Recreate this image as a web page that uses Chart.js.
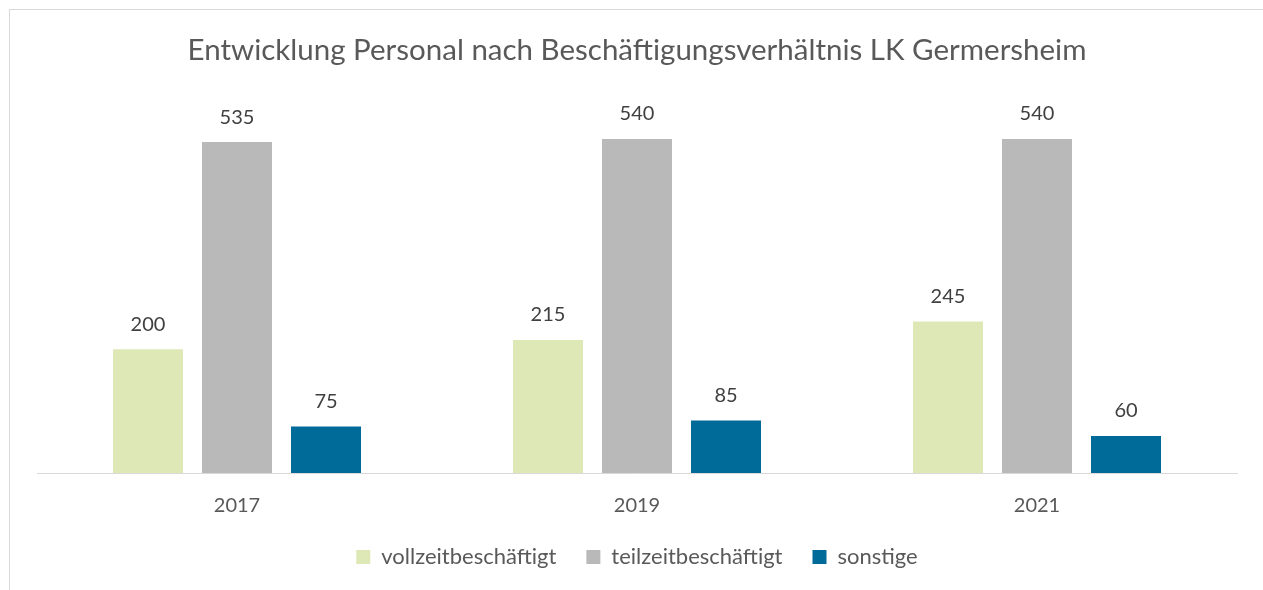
<!DOCTYPE html>
<html>
<head>
<meta charset="utf-8">
<script src="https://cdn.jsdelivr.net/npm/chart.js@4"></script>
<style>
  html, body { margin: 0; padding: 0; background: #fff; overflow: hidden; }
  body { width: 1263px; height: 590px; position: relative; }
  #frame {
    position: absolute; left: 9px; top: 9px;
    width: 1270px; height: 600px;
    border-left: 1px solid #d9d9d9; border-top: 1px solid #d9d9d9;
  }
  #wrap { position: absolute; left: 9px; top: 9px; width: 1256px; height: 600px; }
</style>
</head>
<body>
<div id="frame"></div>
<div id="wrap"><canvas id="chart"></canvas></div>
<script>
// ================================
// DATA
// ================================
const years = ['2017', '2019', '2021'];
const vollzeit = [200, 215, 245];
const teilzeit = [535, 540, 540];
const sonstige = [75, 85, 60];

const FONT = 'Lato';

// value labels above each bar
const barValues = {
    id: 'barValues',
    afterDatasetsDraw(chart) {
        const ctx = chart.ctx;
        ctx.save();
        ctx.font = `20px ${FONT}`;
        ctx.fillStyle = '#404040';
        ctx.textAlign = 'center';
        ctx.textBaseline = 'middle';
        chart.data.datasets.forEach((ds, i) => {
            chart.getDatasetMeta(i).data.forEach((bar, j) => {
                ctx.fillText(ds.data[j], bar.x, bar.y - 25);
            });
        });
        ctx.restore();
    }
};

new Chart(document.getElementById('chart'), {
    type: 'bar',
    data: {
        labels: years,
        datasets: [
            { label: 'vollzeitbeschäftigt', data: vollzeit, backgroundColor: '#dde8b6' },
            { label: 'teilzeitbeschäftigt', data: teilzeit, backgroundColor: '#b9b9b9' },
            { label: 'sonstige', data: sonstige, backgroundColor: '#006a99' }
        ]
    },
    options: {
        responsive: true,
        maintainAspectRatio: false,
        animation: false,
        categoryPercentage: 0.6675,
        barPercentage: 0.787,
        layout: { padding: { left: 28, right: 28, top: 0, bottom: 31 } },
        plugins: {
            title: {
                display: true,
                text: 'Entwicklung Personal nach Beschäftigungsverhältnis LK Germersheim',
                color: '#595959',
                font: { family: FONT, size: 29.5, weight: 'normal' },
                padding: { top: 23.5, bottom: 34 }
            },
            legend: {
                position: 'bottom',
                labels: {
                    color: '#595959',
                    font: { family: FONT, size: 22 },
                    boxWidth: 14,
                    boxHeight: 14,
                    padding: 30
                }
            },
            tooltip: { enabled: false }
        },
        scales: {
            x: {
                grid: { display: false, drawTicks: false },
                border: { color: '#d9d9d9', width: 1 },
                ticks: { color: '#595959', font: { family: FONT, size: 20 }, padding: 21 },
                afterFit(scale) { scale.height = 43; }
            },
            y: {
                display: false,
                min: 0,
                max: 600
            }
        }
    },
    plugins: [barValues]
});
</script>
</body>
</html>
